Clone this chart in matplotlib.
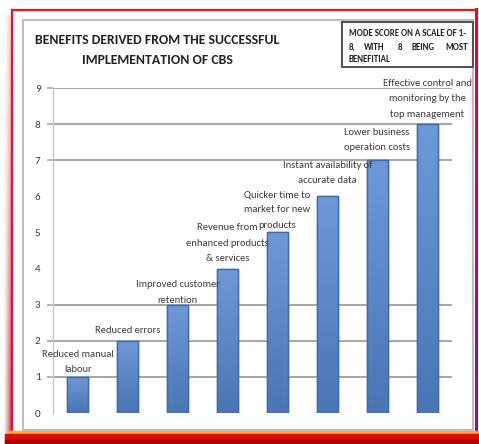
import numpy as np
import matplotlib
matplotlib.use("Agg")
import matplotlib.pyplot as plt
from matplotlib.colors import LinearSegmentedColormap
from matplotlib.patches import Rectangle

# data
benefits = ["Reduced manual\nlabour",
            "Reduced errors",
            "Improved customer\nretention",
            "Revenue from\nenhanced products\n& services",
            "Quicker time to\nmarket for new\nproducts",
            "Instant availability of\naccurate data",
            "Lower business\noperation costs",
            "Effective control and\nmonitoring by the\ntop management"]
mode_score = [1, 2, 3, 4, 5, 6, 7, 8]
y_ticks = [0, 1, 2, 3, 4, 5, 6, 7, 8, 9]
grid_levels = [1, 2, 3, 7, 8, 9]

title = "BENEFITS DERIVED FROM THE SUCCESSFUL\nIMPLEMENTATION OF CBS"
note_line1 = "MODE SCORE ON A SCALE OF 1-"
note_line2 = ["8,", "WITH", "8", "BEING", "MOST"]
note_line3 = "BENEFITIAL"

plt.rcParams['font.family'] = ['Carlito', 'DejaVu Sans']

W, H = 479, 444
fig = plt.figure(figsize=(W / 100, H / 100), dpi=100)

# ---- frame drawn in pixel coordinates ----
bg = fig.add_axes([0, 0, 1, 1], zorder=0)
bg.axis('off')

# left soft shadow, pink at top going dark red at bottom
ny, nx = 200, 20
img = np.zeros((ny, nx, 4))
t = np.linspace(0, 1, ny)[:, None]
s = np.linspace(0, 1, nx)[None, :]
img[..., 0] = 1.0 - 0.35 * t
img[..., 1] = 0.55 * (1 - t) * (1 - s) + 0.05
img[..., 2] = 0.55 * (1 - t) * (1 - s) + 0.15 * s
img[..., 3] = np.clip(s ** 1.3 * (0.35 + 0.65 * t), 0, 1)
bg.imshow(img, extent=[3, 13, 442, 16], aspect='auto', zorder=1)

# right edge, red to magenta
img2 = np.zeros((ny, 1, 4))
img2[:, 0, 0] = 1.0 - 0.35 * t[:, 0]
img2[:, 0, 2] = 0.1 + 0.55 * t[:, 0]
img2[:, 0, 3] = 1.0
bg.imshow(img2, extent=[475.5, 478.5, 432, 9], aspect='auto', zorder=2)

bg.plot([12.5, 477], [10, 10], color='#FF1010', lw=1.6, zorder=2)
bg.plot([12.5, 12.5], [10, 432], color='#E8103A', lw=1.6, zorder=2)

# bottom band
bg.add_patch(Rectangle((8, 431), 471, 2.5, color='#FFB020', zorder=3))
bg.add_patch(Rectangle((5, 433.5), 474, 9.5, color='#E00808', zorder=3))
bg.add_patch(Rectangle((5, 440), 474, 4, color='#B00000', zorder=3))

# inner chart frame
bg.add_patch(Rectangle((23, 20), 450, 410, facecolor='white',
                       edgecolor='#BDBDBD', lw=1.5, zorder=4))

# note box
bg.add_patch(Rectangle((342, 22), 131, 45, facecolor='white',
                       edgecolor='#555555', lw=1.5, zorder=5))
bg.text(349, 33, note_line1, fontsize=6.4, fontweight='bold', color='#222222',
        ha='left', va='center', zorder=6)
for word, xp in zip(note_line2, [349, 364, 398, 412, 468]):
    bg.text(xp, 47, word, fontsize=6.4, fontweight='bold', color='#222222',
            ha='right' if word == note_line2[-1] else 'left', va='center', zorder=6)
bg.text(349, 60, note_line3, fontsize=6.4, fontweight='bold', color='#222222',
        ha='left', va='center', zorder=6)

bg.text(157, 50, title, fontsize=9.9, fontweight='bold', color='#222222',
        ha='center', va='center', linespacing=1.75, zorder=6)

bg.set_xlim(0, W)
bg.set_ylim(H, 0)

# ---- chart ----
ax = fig.add_axes([53 / W, (H - 413) / H, 399 / W, 325 / H], zorder=1)
ax.set_facecolor('none')

x = np.arange(len(benefits))
bars = ax.bar(x, mode_score, width=0.42, color='#5A86C5',
              edgecolor='#4470AE', linewidth=1.0, zorder=3)

cmap = LinearSegmentedColormap.from_list('barfill', ['#4A76B3', '#6F98D6'])
grad = np.linspace(0, 1, 100).reshape(-1, 1)
for b in bars:
    x0, w, h = b.get_x(), b.get_width(), b.get_height()
    im = ax.imshow(grad, extent=[x0, x0 + w, 0, h], origin='lower', cmap=cmap,
                   aspect='auto', zorder=3.5)
    im.set_clip_path(b)
    ax.add_patch(Rectangle((x0, 0), w, h, fill=False, edgecolor='#3F6BA8',
                           lw=1.0, zorder=4))

label_pad = [2, 4, 0, 4, 2, 8, 6, 4]
for xi, v, lab, p in zip(x, mode_score, benefits, label_pad):
    ax.annotate(lab, (xi, v), xytext=(0, p), textcoords='offset points',
                ha='center', va='bottom', fontsize=7.6, color='#3A3A3A',
                linespacing=1.9, zorder=5, annotation_clip=False)

ax.set_xlim(-0.5, len(benefits) - 0.5)
ax.set_ylim(0, 9)
ax.set_yticks(y_ticks)
ax.set_xticks([])
ax.yaxis.grid(True, color='#A8A8A8', lw=1.5, zorder=1)
ax.set_axisbelow(True)
for lvl, gl, tk in zip(y_ticks, ax.get_ygridlines(), ax.yaxis.get_major_ticks()):
    if lvl not in grid_levels:
        gl.set_visible(False)
        tk.tick1line.set_visible(False)
ax.tick_params(axis='y', length=4, width=1.2, color='#A8A8A8', pad=5,
               labelsize=8, labelcolor='#404040')
for side in ['top', 'right', 'bottom']:
    ax.spines[side].set_visible(False)
ax.spines['left'].set_color('#C8C8C8')
ax.spines['left'].set_linewidth(1.0)

fig.savefig('out.png', dpi=100)
